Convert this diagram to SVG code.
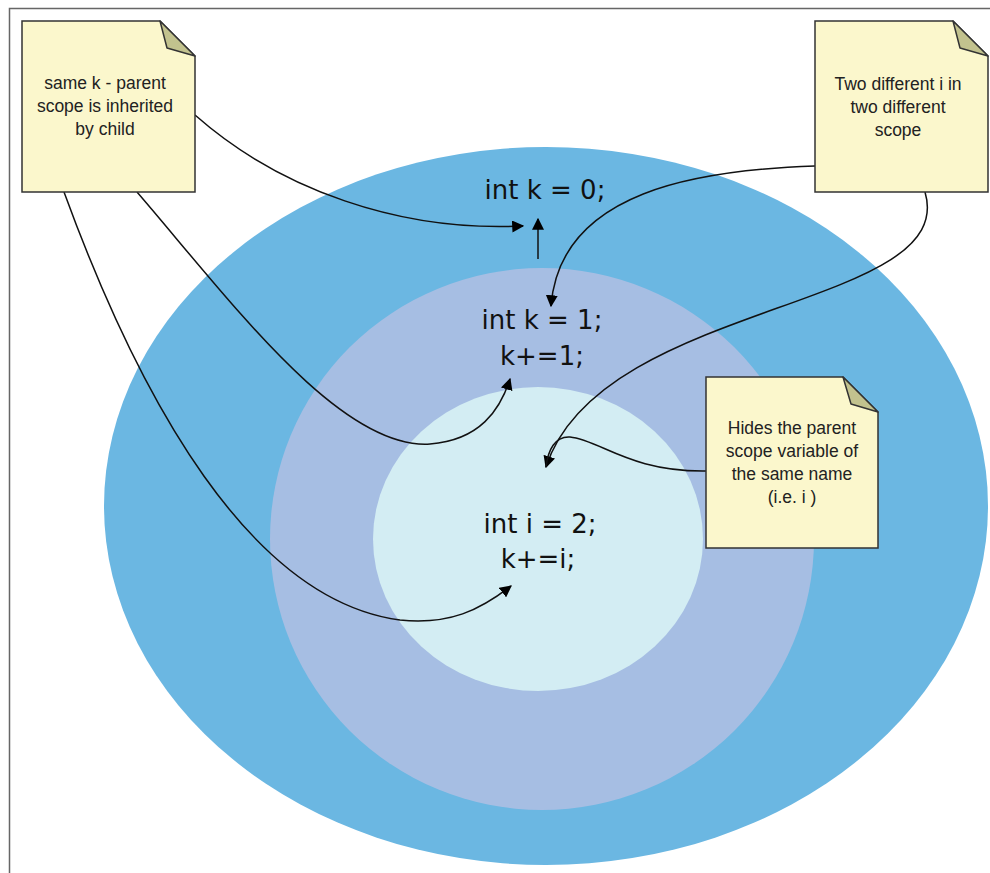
<svg xmlns="http://www.w3.org/2000/svg" width="990" height="873" viewBox="0 0 990 873">
<style>
.note{fill:#fbf7cc;stroke:#333;stroke-width:1.5}
.fold{fill:#c2c28e;stroke:#333;stroke-width:1.5;stroke-linejoin:round}
.nt{font-family:"Liberation Sans",Arial,sans-serif;font-size:17.5px;fill:#222;text-anchor:middle}
.code{font-family:"DejaVu Sans",sans-serif;font-size:26px;fill:#111;text-anchor:middle}
.c{fill:none;stroke:#111;stroke-width:1.5}
</style>
<defs>
<marker id="ah2" viewBox="0 0 10 10" refX="9" refY="5" markerWidth="12" markerHeight="12" markerUnits="userSpaceOnUse" orient="auto">
<path d="M0,0 L10,5 L0,10 z" fill="#000"/>
</marker>
</defs>
<rect width="990" height="873" fill="#fff"/>
<path d="M9.5,873 L9.5,8.5 L990,8.5" fill="none" stroke="#666" stroke-width="1.5"/>
<g id="scopes">
<ellipse id="outer" cx="546" cy="506" rx="442" ry="359" fill="#6bb7e2"/>
<ellipse id="middle" cx="542" cy="539" rx="272" ry="271" fill="#a6bee3"/>
<ellipse id="inner" cx="538" cy="539" rx="165" ry="152" fill="#d3edf3"/>
</g>
<g id="code0"><text class="code" x="545" y="199">int k = 0;</text></g>
<g id="code1"><text class="code" x="542" y="329">int k = 1;</text><text class="code" x="542" y="365">k+=1;</text></g>
<g id="code2"><text class="code" x="540" y="533">int i = 2;</text><text class="code" x="538" y="568">k+=i;</text></g>
<g id="connectors">
<path class="c" d="M195,115 C280,190 400,232 523,226" marker-end="url(#ah2)"/>
<path class="c" d="M538,259 L538,219" marker-end="url(#ah2)"/>
<path class="c" d="M815,166 C700,170 560,190 551,306" marker-end="url(#ah2)"/>
<path class="c" d="M925,192 C960,310 600,300 546,467" marker-end="url(#ah2)"/>
<path class="c" d="M706,471 C630,472 600,440 570,437 C555,436 548,450 546,467"/>
<path class="c" d="M137,192 C230,300 340,450 430,444 C480,440 500,410 510,379" marker-end="url(#ah2)"/>
<path class="c" d="M64,192 C140,400 250,600 400,620 C450,625 480,610 511,586" marker-end="url(#ah2)"/>
</g>
<g id="note1">
<path class="note" d="M22,21 L160,21 L195,56 L195,192 L22,192 z"/>
<path class="fold" d="M160,21 L167,48 L195,56 z"/>
<text class="nt" x="105" y="89">same k - parent</text>
<text class="nt" x="105" y="112">scope is inherited</text>
<text class="nt" x="105" y="135">by child</text>
</g>
<g id="note2">
<path class="note" d="M815,21 L953,21 L988,56 L988,192 L815,192 z"/>
<path class="fold" d="M953,21 L960,48 L988,56 z"/>
<text class="nt" x="898" y="90">Two different i in</text>
<text class="nt" x="898" y="113">two different</text>
<text class="nt" x="898" y="136">scope</text>
</g>
<g id="note3">
<path class="note" d="M706,377 L843,377 L878,412 L878,548 L706,548 z"/>
<path class="fold" d="M843,377 L851,404 L878,412 z"/>
<text class="nt" x="792" y="434">Hides the parent</text>
<text class="nt" x="792" y="457">scope variable of</text>
<text class="nt" x="792" y="480">the same name</text>
<text class="nt" x="792" y="503">(i.e. i )</text>
</g>
</svg>
